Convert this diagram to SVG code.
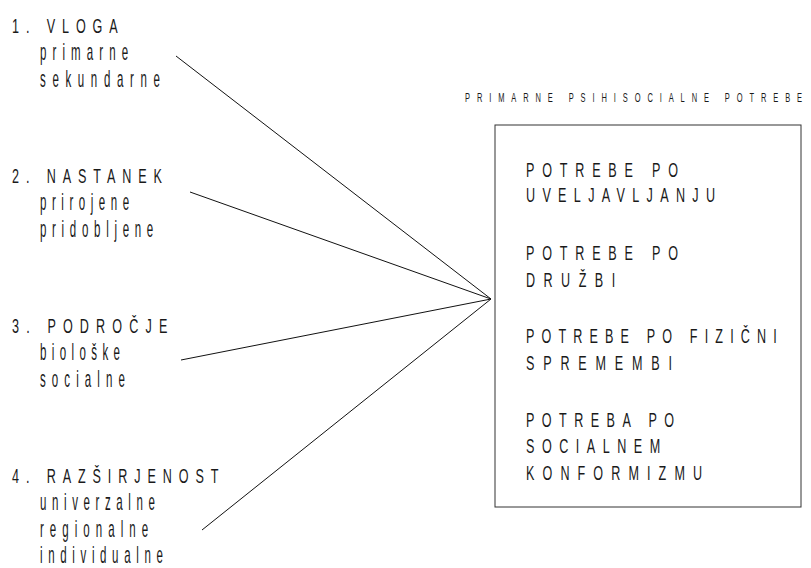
<svg xmlns="http://www.w3.org/2000/svg" width="811" height="568" viewBox="0 0 811 568">
<style>
text{font-family:"Liberation Sans",Arial,sans-serif;fill:#1a1a1a}
.k{font-size:21px}
.s{font-size:23px}
.t{font-size:12.5px;letter-spacing:11.5px}
.c{stroke:#111;stroke-width:1;fill:none}
</style>
<rect width="811" height="568" fill="#fff"/>
<g id="connectors">
<line class="c" x1="176" y1="56" x2="491" y2="299"/>
<line class="c" x1="190" y1="192" x2="491" y2="299"/>
<line class="c" x1="181" y1="360" x2="491" y2="299"/>
<line class="c" x1="202" y1="530" x2="491" y2="299"/>
</g>
<g id="node1">
<g transform="scale(0.6,1)"><text class="k" x="20" y="33" style="letter-spacing:11.5px">1. VLOGA</text></g>
<g transform="scale(0.5,1)">
<text class="s" x="80" y="60" style="letter-spacing:12.2px">primarne</text>
<text class="s" x="80" y="87" style="letter-spacing:13.3px">sekundarne</text>
</g>
</g>
<g id="node2">
<g transform="scale(0.6,1)"><text class="k" x="20" y="183" style="letter-spacing:11.5px">2. NASTANEK</text></g>
<g transform="scale(0.5,1)">
<text class="s" x="80" y="210" style="letter-spacing:11.1px">prirojene</text>
<text class="s" x="80" y="237" style="letter-spacing:11.4px">pridobljene</text>
</g>
</g>
<g id="node3">
<g transform="scale(0.6,1)"><text class="k" x="20" y="333" style="letter-spacing:11.9px">3. PODROČJE</text></g>
<g transform="scale(0.5,1)">
<text class="s" x="80" y="360" style="letter-spacing:10.8px">biološke</text>
<text class="s" x="80" y="387" style="letter-spacing:12.2px">socialne</text>
</g>
</g>
<g id="node4">
<g transform="scale(0.6,1)"><text class="k" x="20" y="483" style="letter-spacing:11.5px">4. RAZŠIRJENOST</text></g>
<g transform="scale(0.5,1)">
<text class="s" x="80" y="510" style="letter-spacing:11.2px">univerzalne</text>
<text class="s" x="80" y="537" style="letter-spacing:12.1px">regionalne</text>
<text class="s" x="80" y="563" style="letter-spacing:11.3px">individualne</text>
</g>
</g>
<g id="title" transform="scale(0.6,1)">
<text class="t" x="775" y="102">PRIMARNE PSIHISOCIALNE POTREBE</text>
</g>
<g id="box">
<rect x="495" y="125" width="306" height="382" fill="none" stroke="#333" stroke-width="1"/>
<g transform="scale(0.6,1)">
<text class="k" x="876.67" y="177" style="letter-spacing:13px">POTREBE PO</text>
<text class="k" x="876.67" y="202" style="letter-spacing:12.2px">UVELJAVLJANJU</text>
<text class="k" x="876.67" y="260" style="letter-spacing:13px">POTREBE PO</text>
<text class="k" x="876.67" y="287" style="letter-spacing:14.1px">DRUŽBI</text>
<text class="k" x="876.67" y="343" style="letter-spacing:11.9px">POTREBE PO FIZIČNI</text>
<text class="k" x="876.67" y="370" style="letter-spacing:14.7px">SPREMEMBI</text>
<text class="k" x="876.67" y="427" style="letter-spacing:12.4px">POTREBA PO</text>
<text class="k" x="876.67" y="453" style="letter-spacing:12.5px">SOCIALNEM</text>
<text class="k" x="876.67" y="480" style="letter-spacing:13.5px">KONFORMIZMU</text>
</g>
</g>
</svg>
